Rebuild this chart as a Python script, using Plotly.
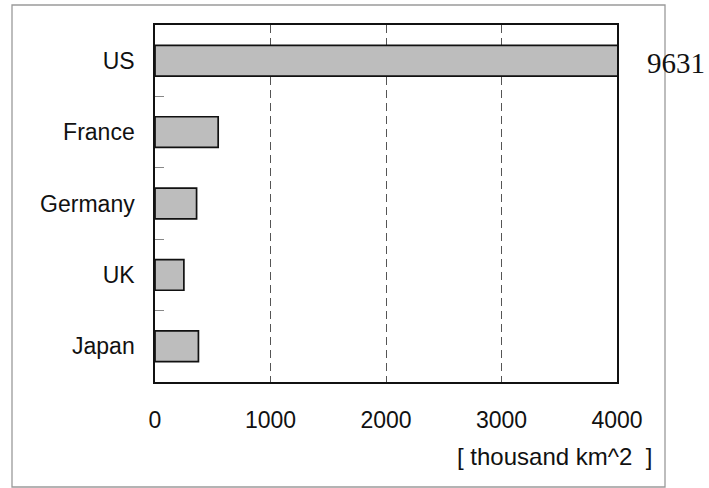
import plotly.graph_objects as go

countries = ["US", "France", "Germany", "UK", "Japan"]
areas = [9631, 547, 360, 250, 376]
x_ticks = [0, 1000, 2000, 3000, 4000]
x_tick_labels = ["0", "1000", "2000", "3000", "4000"]
unit_label = "[ thousand km^2  ]"

W, H = 709, 488
L, R, T, B = 155, 92, 25, 106
pw, ph = W - L - R, H - T - B

def px_x(p):
    return (p - L) / pw

def px_y(p):
    return (H - B - p) / ph

sans = "Liberation Sans, Arial, sans-serif"
serif = "Liberation Serif, Times New Roman, serif"

fig = go.Figure()
fig.add_trace(go.Bar(
    y=countries, x=areas, orientation="h",
    width=0.43,
    marker=dict(color="#bdbdbd", line=dict(color="#111111", width=1.7)),
    hoverinfo="skip",
))

fig.update_layout(
    width=W, height=H,
    margin=dict(l=L, r=R, t=T, b=B, autoexpand=False),
    paper_bgcolor="white", plot_bgcolor="white",
    showlegend=False,
    font=dict(family=sans, size=23, color="#111111"),
    xaxis=dict(
        range=[0, 4000], tickvals=x_ticks, ticktext=x_tick_labels,
        showgrid=True, gridcolor="#555555", gridwidth=1, griddash="8px,5px",
        zeroline=False, ticks="", ticklabelstandoff=17,
        showline=True, linecolor="#111111", linewidth=1.7, mirror=True,
        layer="below traces",
        tickfont=dict(family=sans, size=23, color="#111111"),
    ),
    yaxis=dict(
        categoryorder="array", categoryarray=countries, autorange="reversed",
        showgrid=False, zeroline=False,
        tickson="boundaries", ticks="inside", ticklen=9, tickcolor="#888888", tickwidth=1,
        ticklabelstandoff=14,
        showline=True, linecolor="#111111", linewidth=1.7, mirror=True,
        layer="below traces",
        tickfont=dict(family=sans, size=23, color="#111111"),
    ),
    shapes=[dict(
        type="rect", xref="paper", yref="paper",
        x0=px_x(12), x1=px_x(665), y0=px_y(487), y1=px_y(5),
        line=dict(color="#9a9a9a", width=1.3), layer="below",
    )],
    annotations=[
        dict(text=str(areas[0]), xref="paper", yref="y", x=px_x(645), y=countries[0],
             xanchor="left", yanchor="middle", yshift=-2, showarrow=False,
             font=dict(family=serif, size=29, color="#111111")),
        dict(text=unit_label, xref="paper", yref="paper", x=px_x(554), y=px_y(456),
             xanchor="center", yanchor="middle", showarrow=False,
             font=dict(family=sans, size=24, color="#111111")),
    ],
)

fig.write_html("out.html",
               config={"displayModeBar": False, "staticPlot": True},
               post_script="document.body.style.margin='0';document.body.style.overflow='hidden';")
